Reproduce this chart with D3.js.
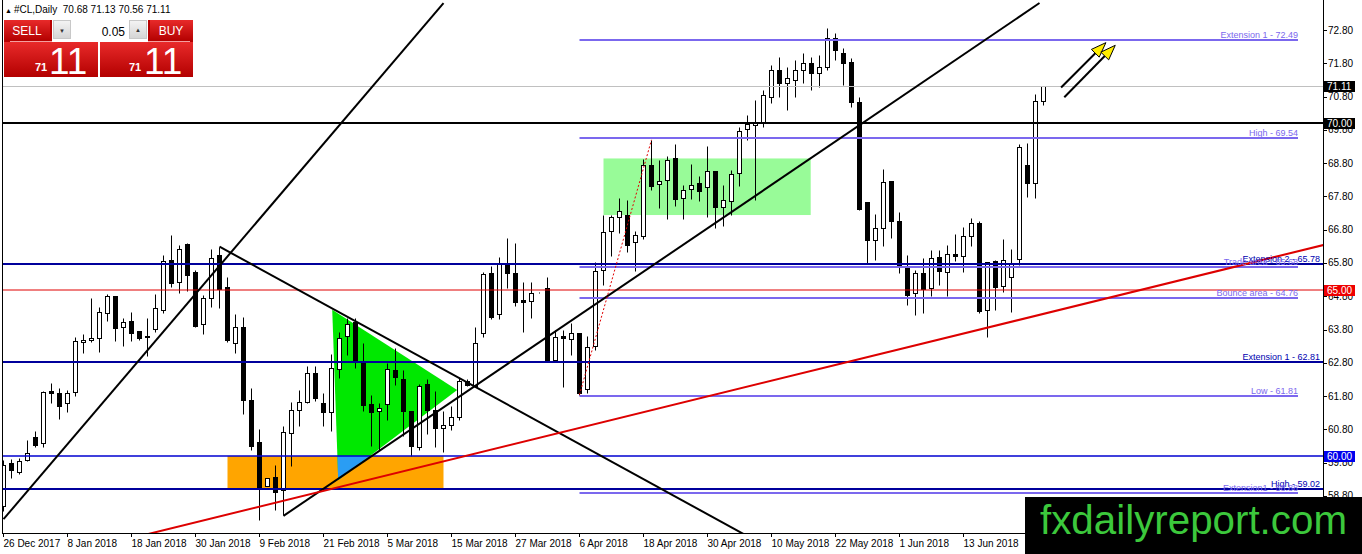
<!DOCTYPE html>
<html><head><meta charset="utf-8">
<script src="https://cdn.jsdelivr.net/npm/d3@7/dist/d3.min.js"></script>
<style>
html,body{margin:0;padding:0;background:#fff;overflow:hidden}
svg{display:block}
text{font-family:"Liberation Sans",Arial,sans-serif}
</style></head><body>
<svg id="chart" width="1362" height="554"></svg>
<script>
// ---------- DATA ----------
const open  = [58.49,59.79,59.51,59.89,60.57,60.39,61.96,61.89,61.59,61.91,63.41,63.49,63.54,64.29,64.81,63.89,64.06,63.76,63.57,63.81,64.39,65.89,65.22,66.36,65.54,63.97,64.74,66.04,65.07,63.39,63.89,61.69,60.43,59.11,59.37,58.97,60.69,61.39,61.61,62.49,61.59,61.31,62.61,63.61,64.04,62.81,61.57,61.36,61.57,62.59,62.31,61.34,60.27,62.17,61.37,60.84,60.92,61.16,62.24,62.09,63.69,65.49,64.27,65.81,65.49,64.69,64.67,64.91,65.04,62.89,63.59,63.51,63.69,62.01,63.31,65.60,66.75,67.18,67.25,66.42,66.60,68.75,68.18,68.30,68.95,67.75,68.02,68.20,68.08,68.57,67.48,67.65,68.50,69.82,69.95,70.05,70.80,71.60,71.20,71.30,71.60,71.80,71.50,71.70,72.55,72.10,71.85,70.65,67.62,66.48,66.85,68.27,67.07,65.65,64.90,65.50,65.05,65.98,65.53,66.07,66.00,66.60,67.00,64.38,65.86,65.10,65.38,65.92,68.73,68.20,70.68];
const high  = [59.89,59.91,59.94,60.49,60.74,61.94,62.19,62.04,61.97,63.57,63.66,64.74,64.49,64.87,64.81,64.14,64.34,63.76,64.14,64.86,66.04,66.64,66.34,66.39,65.59,64.84,66.21,66.29,65.39,64.27,64.17,62.04,60.81,59.34,59.74,60.89,61.61,61.99,62.71,62.71,61.89,63.07,63.74,64.14,64.14,63.39,61.84,61.59,62.79,63.24,62.59,61.34,62.17,62.31,61.94,61.34,61.51,62.34,62.31,63.87,65.54,65.71,65.97,66.54,66.39,65.24,65.24,64.93,65.39,63.79,63.79,63.99,63.69,63.61,65.84,67.25,67.25,67.75,67.70,66.75,68.92,69.50,68.90,69.02,69.38,68.15,68.78,68.40,69.32,68.57,68.15,68.60,69.88,70.25,70.70,71.00,71.75,72.00,71.70,71.90,72.10,72.00,72.05,72.86,72.70,72.25,71.95,70.78,67.62,67.28,68.62,68.27,67.32,66.05,65.58,65.95,66.20,66.20,66.35,66.68,66.88,67.15,67.05,65.82,65.90,66.52,66.22,69.38,69.40,70.88,71.13];
const low   = [58.34,59.34,59.46,59.84,60.27,60.27,61.59,61.11,61.31,61.79,63.09,63.42,63.11,64.07,63.44,63.29,63.44,63.49,63.01,63.74,64.31,65.07,64.89,64.96,63.87,63.66,64.49,64.44,63.41,63.09,61.27,60.19,58.09,59.09,58.39,58.24,59.69,60.91,61.59,61.64,60.89,60.74,62.34,63.04,62.64,61.34,60.29,60.19,61.09,62.14,60.59,59.99,60.17,60.67,60.27,60.11,60.79,61.09,62.09,62.07,63.57,64.11,64.11,65.04,64.51,63.74,64.14,64.89,62.87,62.87,62.07,63.04,61.84,61.89,63.19,65.15,66.00,66.70,66.12,65.55,66.52,67.98,67.45,67.12,67.52,67.12,67.72,67.65,67.18,66.85,66.92,67.25,68.12,69.48,67.70,69.90,70.60,70.80,70.40,70.80,71.20,71.00,71.10,71.60,71.90,71.15,70.50,67.40,65.80,65.90,66.32,66.55,65.50,64.55,64.25,64.30,64.80,65.15,64.82,65.85,65.52,66.32,64.30,63.58,64.38,64.92,64.32,65.75,67.78,67.75,70.56];
const close = [59.74,59.59,59.86,60.09,60.34,61.92,61.89,61.49,61.89,63.44,63.49,63.55,64.33,64.81,63.86,64.04,63.71,63.54,63.61,64.44,65.86,65.21,66.21,65.44,63.92,64.74,65.94,65.02,63.49,63.89,61.69,60.29,59.04,59.34,58.91,60.72,61.39,61.61,62.49,61.74,61.31,62.64,63.54,63.96,62.89,61.54,61.31,61.43,62.61,62.37,61.34,60.29,62.11,61.37,60.84,60.92,61.16,62.24,62.14,63.39,65.46,64.17,65.79,65.49,64.64,64.64,64.89,64.91,62.89,63.57,63.55,63.71,61.89,63.27,65.56,66.73,67.17,67.35,66.33,66.65,68.75,68.10,68.27,68.90,67.72,67.98,68.15,67.95,68.55,67.48,67.70,68.48,69.75,69.98,70.05,70.85,71.60,71.20,71.35,71.60,71.80,71.50,71.70,72.55,72.20,71.80,70.65,67.42,66.48,66.85,68.23,67.07,65.75,64.85,65.50,65.02,65.95,65.55,66.07,66.00,66.60,67.00,64.35,65.82,65.08,65.90,65.78,69.28,68.20,70.67,71.11];

const dateLabels = ["26 Dec 2017","8 Jan 2018","18 Jan 2018","30 Jan 2018","9 Feb 2018","21 Feb 2018","5 Mar 2018","15 Mar 2018","27 Mar 2018","6 Apr 2018","18 Apr 2018","30 Apr 2018","10 May 2018","22 May 2018","1 Jun 2018","13 Jun 2018"];
const dateLabelBars = [0,8,16,24,32,40,48,56,64,72,80,88,96,104,112,120];
const priceTicks = [72.80,71.80,70.80,69.80,68.80,67.80,66.80,65.80,64.80,63.80,62.80,61.80,60.80,59.80,58.80];

const levelPrices = [70.00,65.78,65.00,62.81,60.00,59.02];
const levelNames  = ["","Extension 2","","Extension 1","","High"];
const fiboPrices  = [72.49,69.54,65.68,64.76,61.81,58.88];
const fiboNames   = ["Extension 1","High","Trade area","Bounce area","Low","Extension1"];
const bidPrice = 71.11;
const symbolTitle = "#CL,Daily";
const lastOHLC = [70.68,71.13,70.56,71.11];

// trend lines: [bar1, price1, bar2, price2]
const trendBlack = [[0,58.10,55,73.61],[35,58.20,129.5,73.61],[27,66.29,93,57.59]];
const trendRed = [18,57.65,165,66.34];
const fiboRay = [72,61.84,81,69.50];
const triangle = [[41.09,64.39],[56.71,61.98],[41.84,59.28]];
const zoneOrange = [28,55,60.00,59.02];
const zoneGreen = [75,100.9,68.94,67.24];
const arrows = [[132.2,71.07,137.8,72.42],[132.6,70.78,138.97,72.34]];

// ---------- SCALES ----------
const svg = d3.select('#chart');
const P = {l:3, r:1323, t:0, b:533};
const x = d3.scaleLinear().domain([0,1]).range([3.5,11.5]);
const y = d3.scaleLinear().domain([58.80,72.80]).range([495.9,30.0]);
const py = v => Math.round(y(v)) + 0.5;
const cx = i => Math.round(x(i) - 0.5) + 0.5;

const defs = svg.append('defs');
defs.append('clipPath').attr('id','pc').append('rect')
  .attr('x',P.l).attr('y',P.t).attr('width',P.r-P.l).attr('height',P.b-P.t);
defs.append('clipPath').attr('id','oc').append('rect')
  .attr('x',x(zoneOrange[0])).attr('y',y(zoneOrange[2]))
  .attr('width',x(zoneOrange[1])-x(zoneOrange[0])).attr('height',y(zoneOrange[3])-y(zoneOrange[2]));
const gr = defs.append('linearGradient').attr('id','red').attr('x1',0).attr('y1',0).attr('x2',0).attr('y2',1);
gr.append('stop').attr('offset','0%').attr('stop-color','#e82a2a');
gr.append('stop').attr('offset','100%').attr('stop-color','#b30000');
const gb = defs.append('linearGradient').attr('id','btn').attr('x1',0).attr('y1',0).attr('x2',0).attr('y2',1);
gb.append('stop').attr('offset','0%').attr('stop-color','#f4f4f4');
gb.append('stop').attr('offset','100%').attr('stop-color','#d4d4d4');

const g = svg.append('g').attr('clip-path','url(#pc)');

// ---------- BACKGROUND OBJECTS ----------
g.append('rect').attr('x',x(zoneOrange[0])).attr('y',y(zoneOrange[2]))
  .attr('width',x(zoneOrange[1])-x(zoneOrange[0])).attr('height',y(zoneOrange[3])-y(zoneOrange[2]))
  .attr('fill','#ffa500');
g.append('rect').attr('x',x(zoneGreen[0])).attr('y',y(zoneGreen[2]))
  .attr('width',x(zoneGreen[1])-x(zoneGreen[0])).attr('height',y(zoneGreen[3])-y(zoneGreen[2]))
  .attr('fill','#98fb98');
const triPts = triangle.map(d=>[x(d[0]),y(d[1])].join(',')).join(' ');
g.append('polygon').attr('points',triPts).attr('fill','#00e800');
g.append('polygon').attr('points',triPts).attr('fill','#2a9df4').attr('clip-path','url(#oc)');

// ---------- CANDLES ----------
const idx = d3.range(open.length);
const c = g.append('g').selectAll('g').data(idx).join('g');
c.append('line').attr('x1',cx).attr('x2',cx)
  .attr('y1',i=>py(high[i])).attr('y2',i=>py(low[i])).attr('stroke','#000').attr('stroke-width',1);
c.append('rect').attr('x',i=>cx(i)-2).attr('width',4)
  .attr('y',i=>py(Math.max(open[i],close[i])))
  .attr('height',i=>Math.max(0,py(Math.min(open[i],close[i]))-py(Math.max(open[i],close[i]))))
  .attr('fill',i=>close[i]>=open[i]?'#fff':'#000').attr('stroke','#000').attr('stroke-width',1);

// ---------- LINES ----------
g.append('line').attr('x1',P.l).attr('x2',P.r).attr('y1',py(bidPrice)).attr('y2',py(bidPrice))
  .attr('stroke','#c0c0c0').attr('stroke-width',1);
const lvlColor = ['#000','#00009c','#e00000','#00009c','#0000d0','#00009c'];
const lvlWidth = [2,2,1,2,1.3,2];
levelPrices.forEach((p,k)=>{
  g.append('line').attr('x1',P.l).attr('x2',P.r).attr('y1',Math.round(y(p))).attr('y2',Math.round(y(p)))
   .attr('stroke',lvlColor[k]).attr('stroke-width',lvlWidth[k]);
});
fiboPrices.forEach((p,k)=>{
  g.append('line').attr('x1',x(72)).attr('x2',1298).attr('y1',Math.round(y(p))).attr('y2',Math.round(y(p)))
   .attr('stroke','#7b68ee').attr('stroke-width',2);
});
trendBlack.forEach(t=>{
  g.append('line').attr('x1',x(t[0])).attr('y1',y(t[1])).attr('x2',x(t[2])).attr('y2',y(t[3]))
   .attr('stroke','#000').attr('stroke-width',2);
});
g.append('line').attr('x1',x(trendRed[0])).attr('y1',y(trendRed[1])).attr('x2',x(trendRed[2])).attr('y2',y(trendRed[3]))
  .attr('stroke','#dd0000').attr('stroke-width',2);
g.append('line').attr('x1',x(fiboRay[0])).attr('y1',y(fiboRay[1])).attr('x2',x(fiboRay[2])).attr('y2',y(fiboRay[3]))
  .attr('stroke','#e00000').attr('stroke-width',1).attr('stroke-dasharray','2,2');

// arrows
arrows.forEach(a=>{
  const x1=x(a[0]),y1=y(a[1]),x2=x(a[2]),y2=y(a[3]);
  const dx=x2-x1,dy=y2-y1,L=Math.hypot(dx,dy),ux=dx/L,uy=dy/L;
  const bx=x2-ux*15,by=y2-uy*15;
  g.append('line').attr('x1',x1).attr('y1',y1).attr('x2',bx).attr('y2',by).attr('stroke','#000').attr('stroke-width',2);
  g.append('polygon').attr('points',[[x2,y2],[bx-uy*5.5,by+ux*5.5],[bx+uy*5.5,by-ux*5.5]].map(p=>p.join(',')).join(' '))
   .attr('fill','#ffee00').attr('stroke','#000').attr('stroke-width',1);
});

// labels
const lab = svg.append('g').style('font-size','9px');
levelPrices.forEach((p,k)=>{
  if(!levelNames[k]) return;
  lab.append('text').attr('x',1320).attr('y',Math.round(y(p))-2.5).attr('text-anchor','end')
    .attr('fill','#0000b0').text(levelNames[k]+' - '+p.toFixed(2));
});
fiboPrices.forEach((p,k)=>{
  lab.append('text').attr('x',1298).attr('y',Math.round(y(p))-2.5).attr('text-anchor','end')
    .attr('fill','#7b68ee').text(fiboNames[k]+' - '+p.toFixed(2));
});

// ---------- AXES ----------
svg.append('line').attr('x1',P.r+0.5).attr('x2',P.r+0.5).attr('y1',0).attr('y2',P.b).attr('stroke','#000');
svg.append('line').attr('x1',2.5).attr('x2',2.5).attr('y1',0).attr('y2',P.b).attr('stroke','#000');
svg.append('line').attr('x1',2).attr('x2',P.r+1).attr('y1',P.b+0.5).attr('y2',P.b+0.5).attr('stroke','#000');
const ax = svg.append('g').style('font-size','10px');
priceTicks.forEach(t=>{
  ax.append('line').attr('x1',P.r).attr('x2',P.r+4).attr('y1',py(t)).attr('y2',py(t)).attr('stroke','#000');
  ax.append('text').attr('x',P.r+5).attr('y',y(t)+3.5).attr('fill','#000').text(t.toFixed(2));
});
const boxes = [[bidPrice,'#000'],[levelPrices[0],'#000'],[levelPrices[2],'#ee0000'],[levelPrices[4],'#0000ee']];
boxes.forEach(b=>{
  const yy=Math.round(y(b[0]));
  ax.append('rect').attr('x',P.r+1).attr('y',yy-5).attr('width',31).attr('height',11).attr('fill',b[1]);
  ax.append('text').attr('x',P.r+4).attr('y',yy+4).attr('fill','#fff').text(b[0].toFixed(2));
});
dateLabelBars.forEach((b,k)=>{
  ax.append('line').attr('x1',cx(b)).attr('x2',cx(b)).attr('y1',P.b).attr('y2',P.b+4).attr('stroke','#000');
  ax.append('text').attr('x',cx(b)).attr('y',P.b+14).attr('fill','#000').text(dateLabels[k]);
});

// ---------- HEADER & TRADE PANEL ----------
const hd = svg.append('text').attr('x',5).attr('y',13).style('font-size','10px').attr('fill','#000')
  .attr('xml:space','preserve').style('white-space','pre');
hd.append('tspan').style('font-size','7px').text('▲ ');
hd.append('tspan').text(symbolTitle+'\u00a0\u00a0'+lastOHLC.map(v=>v.toFixed(2)).join(' '));

const tp = svg.append('g');
tp.append('rect').attr('x',4).attr('y',20).attr('width',189).attr('height',57).attr('fill','#b80000');
tp.append('rect').attr('x',4).attr('y',20).attr('width',46).attr('height',21).attr('fill','url(#red)');
tp.append('rect').attr('x',150).attr('y',20).attr('width',43).attr('height',21).attr('fill','url(#red)');
tp.append('rect').attr('x',4).attr('y',42).attr('width',94).attr('height',35).attr('fill','url(#red)');
tp.append('rect').attr('x',100).attr('y',42).attr('width',93).attr('height',35).attr('fill','url(#red)');
tp.append('line').attr('x1',10).attr('x2',97).attr('y1',41.5).attr('y2',41.5).attr('stroke','#f3a0a0');
tp.append('line').attr('x1',101).attr('x2',190).attr('y1',41.5).attr('y2',41.5).attr('stroke','#f3a0a0');
tp.append('rect').attr('x',98).attr('y',41).attr('width',2).attr('height',36).attr('fill','#fff');
tp.append('rect').attr('x',52).attr('y',19).attr('width',96).attr('height',23).attr('fill','#fff');
tp.append('rect').attr('x',53.5).attr('y',20.5).attr('width',17).attr('height',18).attr('fill','url(#btn)').attr('stroke','#c8c8c8');
tp.append('rect').attr('x',129.5).attr('y',20.5).attr('width',17).attr('height',18).attr('fill','url(#btn)').attr('stroke','#c8c8c8');
tp.append('text').attr('x',62).attr('y',33).attr('text-anchor','middle').style('font-size','6px').attr('fill','#333').text('▼');
tp.append('text').attr('x',138).attr('y',32).attr('text-anchor','middle').style('font-size','6px').attr('fill','#333').text('▲');
tp.append('text').attr('x',125).attr('y',36).attr('text-anchor','end').style('font-size','12px').attr('fill','#000').text('0.05');
tp.append('text').attr('x',27).attr('y',35).attr('text-anchor','middle').style('font-size','12px').attr('fill','#fff').text('SELL');
tp.append('text').attr('x',171).attr('y',35).attr('text-anchor','middle').style('font-size','12px').attr('fill','#fff').text('BUY');
const bidStr = bidPrice.toFixed(2).split('.');
[[35,49],[129,144]].forEach(p=>{
  tp.append('text').attr('x',p[0]).attr('y',71).style('font-size','11px').style('font-weight','bold').attr('fill','#fff').text(bidStr[0]);
  tp.append('text').attr('x',p[1]).attr('y',74).style('font-size','37px').attr('fill','#fff').text(bidStr[1]);
});

// ---------- LOGO ----------
svg.append('rect').attr('x',1025).attr('y',497).attr('width',337).attr('height',57).attr('fill','#000');
svg.append('text').attr('x',1040).attr('y',534).style('font-size','41px').attr('fill','#3cc83c')
  .attr('textLength',307).attr('lengthAdjust','spacingAndGlyphs').text('fxdailyreport.com');
</script></body></html>
